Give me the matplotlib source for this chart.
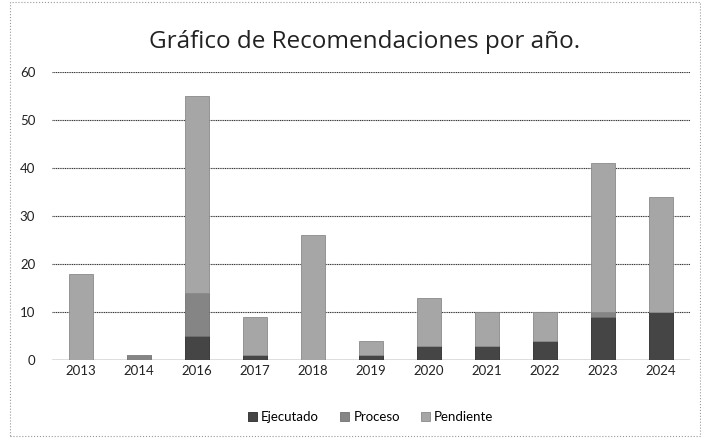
import numpy as np
import matplotlib.pyplot as plt
from matplotlib.patches import Rectangle

plt.rcParams['font.family'] = ['Lato', 'DejaVu Sans']

years = ['2013', '2014', '2016', '2017', '2018', '2019', '2020', '2021', '2022', '2023', '2024']
ejecutado = [0, 0, 5, 1, 0, 1, 3, 3, 4, 9, 10]
proceso = [0, 1, 9, 0, 0, 0, 0, 0, 0, 1, 0]
pendiente = [18, 0, 41, 8, 26, 3, 10, 7, 6, 31, 24]

fig = plt.figure(figsize=(7.01, 4.38), dpi=100)
ax = fig.add_axes([0.074, 0.178, 0.91, 0.658])

x = np.arange(len(years))
ej = np.array(ejecutado)
pr = np.array(proceso)
pe = np.array(pendiente)
w = 0.41
ax.bar(x, ej, w, color='#454545', edgecolor='#2a2a2a', linewidth=0.6, label='Ejecutado', zorder=3)
ax.bar(x, pr, w, bottom=ej, color='#858585', edgecolor='#707070', linewidth=0.6, label='Proceso', zorder=3)
ax.bar(x, pe, w, bottom=ej + pr, color='#a6a6a6', edgecolor='#8a8a8a', linewidth=0.6, label='Pendiente', zorder=3)

ax.set_xlim(-0.5, len(years) - 0.5)
ax.set_ylim(0, 60)
ax.set_yticks(range(0, 61, 10))
ax.set_xticks(x)
ax.set_xticklabels(years)
ax.tick_params(length=0, labelsize=9.5, colors='#222222')
ax.tick_params(axis='y', pad=12)
ax.grid(axis='y', color='#333333', linestyle=(0, (1, 0.6)), linewidth=0.8, zorder=0)
for s in ax.spines.values():
    s.set_visible(False)
ax.axhline(0, color='#333333', linewidth=0.9, zorder=2)

fig.text(0.52, 0.905, 'Gráfico de Recomendaciones por año.', ha='center', va='center',
         fontsize=17.5, color='#222222', family=['Open Sans', 'DejaVu Sans'])
ax.legend(loc='upper center', bbox_to_anchor=(0.5, -0.135), ncol=3, frameon=False,
          fontsize=9.5, handlelength=0.7, handleheight=0.7, handletextpad=0.3, columnspacing=1.6)

fig.patches.append(Rectangle((0.014, 0.005), 0.985, 0.99, transform=fig.transFigure,
                             fill=False, edgecolor='#999999', linestyle=':', linewidth=0.8))

fig.savefig('out.png', dpi=100)
